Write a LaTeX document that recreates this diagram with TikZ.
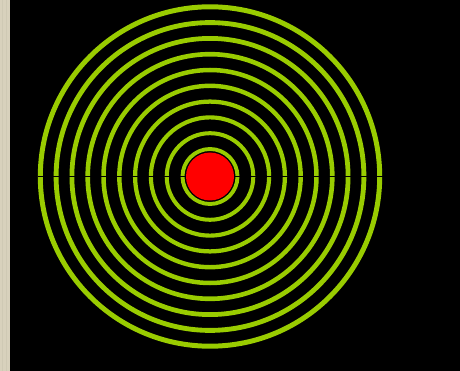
\documentclass[tikz,border=0pt]{standalone}
\usepackage{tikz}
\usetikzlibrary{calc}
\definecolor{ringgreen}{HTML}{99CC00}
\definecolor{corered}{HTML}{FF0000}
\definecolor{paperbeige}{HTML}{D8D1BC}
\definecolor{nightblack}{HTML}{000000}

\begin{document}
\begin{tikzpicture}[x=1pt, y=-1pt]
          % Fondo
          \fill[nightblack] (0,0) rectangle (460,371);
          \useasboundingbox (0,0) rectangle (460,371);

          % Franja de papel
          \fill[paperbeige] (0,0) rectangle (10,371);
          \foreach \s in {2,6} {
            \draw[paperbeige!85!black, line width=0.8pt, opacity=0.25] (\s,0) -- (\s,371);
          }

          % Centro
          \coordinate (centro) at (210,176.5);

          % Anillos concentricos
          \foreach \k in {0,...,9} {
            \pgfmathsetmacro{\grosor}{3.9+0.12*\k}
            \draw[ringgreen, line width=\grosor pt] (centro) circle ({27.5+15.8*\k});
          }

          % Eje horizontal
          \draw[nightblack, line width=1.4pt] ($(centro)+(-172,0)$) -- ($(centro)+(175,0)$);

          % Nucleo
          \node[circle, fill=corered, inner sep=0pt, minimum size=48pt] (nucleo) at (centro) {};
        \end{tikzpicture}
\end{document}
